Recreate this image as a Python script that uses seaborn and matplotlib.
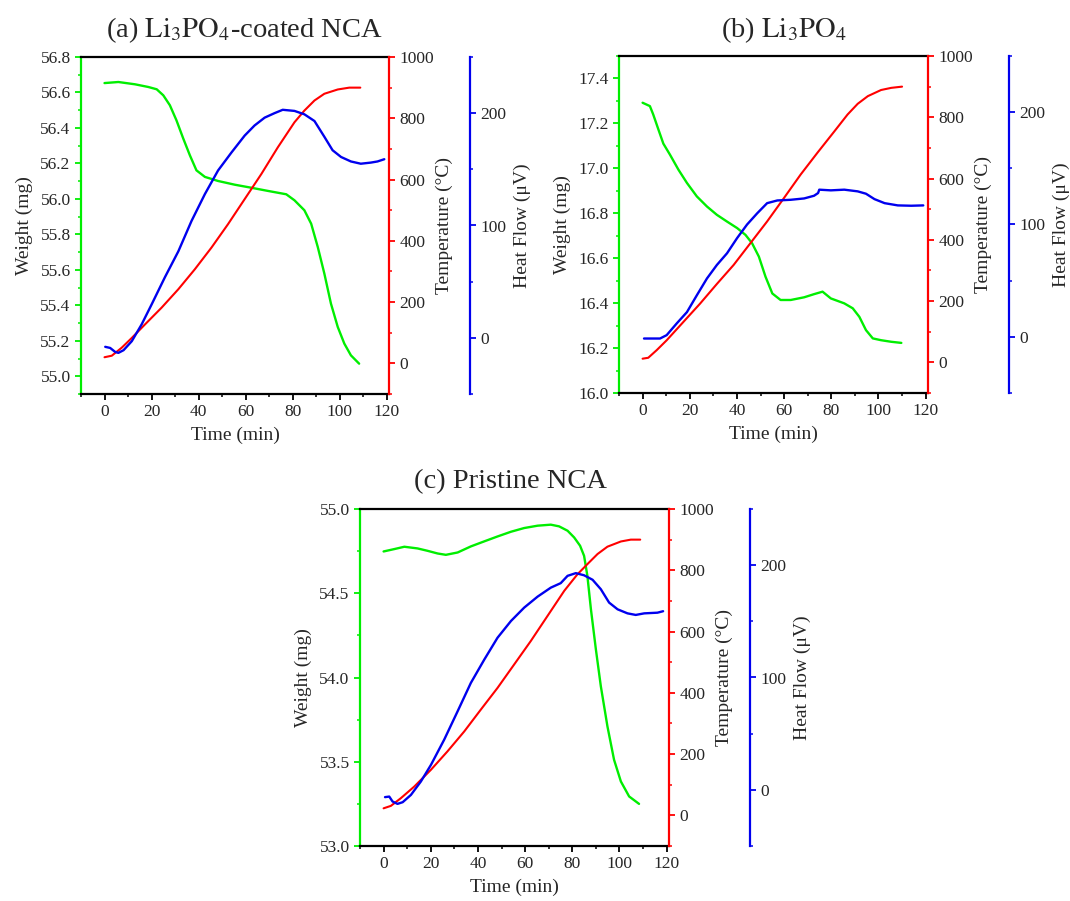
import numpy as np
import pandas as pd
import seaborn as sns
import matplotlib.pyplot as plt
from matplotlib.ticker import MultipleLocator

# (a) Li3PO4-coated NCA
a_wt_t = [0, 5.9, 13, 18.6, 22.2, 25, 27.8, 30.6, 33.5, 36.3, 39.1, 42.7, 48.3, 55.4, 62.4, 69.5, 77.3, 80.8,
          85, 87.9, 90.7, 93.5, 96.3, 99.2, 102, 104.8, 108.3]
a_wt = [56.653, 56.659, 56.646, 56.631, 56.618, 56.584, 56.528, 56.443, 56.34, 56.246, 56.161, 56.124, 56.101,
        56.08, 56.063, 56.045, 56.026, 55.992, 55.936, 55.86, 55.729, 55.579, 55.41, 55.278, 55.184, 55.118, 55.071]
a_temp_t = [0, 3.1, 7.3, 11.6, 17.2, 24.3, 31.4, 38.4, 45.5, 52.5, 59.6, 66.7, 73.7, 80.8, 85, 89.3, 93.5, 99.2,
            104.1, 108.8]
a_temp = [20, 25, 51, 83, 127, 182, 242, 307, 378, 454, 536, 618, 705, 787, 825, 858, 880, 894, 900, 900]
a_hf_t = [0.3, 2.4, 4.5, 5.9, 8.1, 11.6, 15.8, 20.1, 25.7, 31.4, 37, 42.7, 48.3, 54, 59.6, 63.8, 68.1, 72.3,
          75.8, 80.8, 85, 89.3, 93.5, 97, 100.6, 104.8, 109, 113.3, 116.1, 119]
a_hf = [-8, -9, -12.5, -13.4, -11, -3, 12, 30, 54, 77, 104, 128, 149, 165, 180, 189, 196, 200, 203, 202, 199,
        193, 179, 167, 161, 157, 155, 156, 157, 159]

# (b) Li3PO4
b_wt_t = [0, 3.1, 4.5, 6.7, 8.8, 11.6, 15.2, 18.8, 23, 27.3, 31.5, 35.8, 40.1, 43.6, 46.4, 49.3, 52.1, 55,
          58.5, 62.8, 68.5, 72.7, 76.3, 79.8, 85.5, 89.1, 91.9, 94.7, 97.6, 101.1, 105.4, 109.7]
b_wt = [17.292, 17.277, 17.24, 17.173, 17.11, 17.061, 16.994, 16.935, 16.875, 16.83, 16.793, 16.763, 16.734,
        16.704, 16.667, 16.607, 16.518, 16.443, 16.414, 16.414, 16.426, 16.44, 16.451, 16.421, 16.399, 16.377,
        16.339, 16.28, 16.243, 16.235, 16.228, 16.223]
b_temp_t = [0, 2.4, 6, 10.2, 17.3, 24.4, 31.5, 38.6, 45.7, 52.8, 59.9, 67, 74.1, 81.3, 86.9, 91.2, 95.5, 101.1,
            105.4, 110]
b_temp = [12, 15, 40, 72, 132, 192, 256, 318, 389, 460, 536, 613, 684, 754, 809, 844, 869, 889, 896, 900]
b_hf_t = [0.6, 7.4, 10.2, 14.5, 18.8, 23, 27.3, 31.5, 35.8, 40.1, 44.3, 48.6, 52.8, 57.1, 62.8, 68.5, 72.7,
          74.4, 74.9, 79.8, 85.5, 91.2, 94.7, 98.3, 102.6, 108.2, 113.9, 119]
b_hf = [-1.5, -1.5, 1.5, 12, 22, 37, 52, 64, 74.4, 88, 100, 110, 119, 121.4, 122, 123.2, 125.6, 128, 131,
        130.4, 131, 129.5, 127.4, 122.6, 119, 117, 116.7, 117]

# (c) Pristine NCA
c_wt_t = [0, 4.5, 8.8, 14.4, 18.6, 22.9, 26.4, 31.4, 37, 42.7, 48.3, 54, 59.6, 65.3, 70.9, 74.4, 78, 80.8,
          83.3, 85, 86.4, 87.9, 90, 92.1, 94.9, 97.7, 100.6, 104.1, 108.3]
c_wt = [54.748, 54.762, 54.776, 54.766, 54.752, 54.736, 54.728, 54.742, 54.778, 54.808, 54.837, 54.865, 54.887,
        54.901, 54.907, 54.897, 54.871, 54.831, 54.782, 54.722, 54.603, 54.405, 54.167, 53.948, 53.71, 53.512,
        53.383, 53.294, 53.25]
c_temp_t = [0, 3.1, 7.3, 13, 20.1, 27.1, 34.2, 41.2, 48.3, 55.4, 62.4, 69.5, 76.6, 82.2, 86.4, 90.7, 94.9,
            100.6, 104.8, 108.8]
c_temp = [23, 31, 56, 94, 149, 209, 274, 345, 416, 493, 569, 651, 733, 787, 820, 853, 877, 894, 900, 900]
c_hf_t = [0.6, 2.4, 3.8, 5.9, 8.1, 11.6, 15.8, 20.1, 25.7, 31.4, 37, 42.7, 48.3, 54, 59.6, 65.3, 70.9, 75.1,
          78, 81.5, 85, 88.6, 92.1, 95.6, 99.2, 103.4, 106.9, 110.5, 116.1, 118.5]
c_hf = [-6.5, -6, -10.4, -12.5, -11, -4.5, 7.4, 22.3, 44.7, 70, 95.2, 116, 135.4, 150.3, 162.2, 172, 180,
        184, 190.5, 192.9, 191, 187, 178.6, 166.7, 160.7, 157.1, 155.7, 157.1, 157.7, 159]

GREEN, RED, BLUE = '#00ee00', '#ff0000', '#0000ee'

sns.set_style('ticks')
plt.rcParams['font.family'] = ['Liberation Serif', 'DejaVu Serif']
plt.rcParams['mathtext.fontset'] = 'stix'
plt.rcParams['xtick.direction'] = 'out'
plt.rcParams['ytick.direction'] = 'out'

W, H = 1070, 901
fig = plt.figure(figsize=(W / 100, H / 100), dpi=100)


def px_rect(left, right, top, bottom):
    return [left / W, 1 - bottom / H, (right - left) / W, (bottom - top) / H]


def panel(rect, wt_t, wt, temp_t, temp, hf_t, hf, ylim, ymaj, ymin):
    ax = fig.add_axes(rect)
    ax_t = ax.twinx()
    ax_h = ax.twinx()

    sns.lineplot(x=wt_t, y=wt, ax=ax, color=GREEN, linewidth=1.7)
    sns.lineplot(x=temp_t, y=temp, ax=ax_t, color=RED, linewidth=1.5)
    sns.lineplot(x=hf_t, y=hf, ax=ax_h, color=BLUE, linewidth=1.7)

    ax.set_xlim(-10, 121)
    ax.set_ylim(*ylim)
    ax_t.set_ylim(-100, 1000)
    ax_h.set_ylim(-50, 250)

    ax.xaxis.set_major_locator(MultipleLocator(20))
    ax.xaxis.set_minor_locator(MultipleLocator(10))
    ax.yaxis.set_major_locator(MultipleLocator(ymaj))
    ax.yaxis.set_minor_locator(MultipleLocator(ymin))
    ax_t.yaxis.set_major_locator(MultipleLocator(200))
    ax_t.yaxis.set_minor_locator(MultipleLocator(100))
    ax_h.yaxis.set_major_locator(MultipleLocator(100))
    ax_h.yaxis.set_minor_locator(MultipleLocator(50))

    for a in (ax, ax_t, ax_h):
        for s in ['top', 'bottom', 'left', 'right']:
            a.spines[s].set_linewidth(1.6)
    ax.spines['top'].set_visible(True)
    ax.spines['right'].set_visible(False)
    ax.spines['left'].set_color(GREEN)
    ax.spines['top'].set_color('black')
    ax.spines['bottom'].set_color('black')
    for s in ['top', 'bottom', 'left']:
        ax_t.spines[s].set_visible(False)
        ax_h.spines[s].set_visible(False)
    ax_t.spines['right'].set_color(RED)
    ax_h.spines['right'].set_color(BLUE)
    ax_h.spines['right'].set_position(('outward', 58.3))

    ax.tick_params(axis='x', which='major', length=4, width=1.3, labelsize=12.5, color='black', pad=3)
    ax.tick_params(axis='x', which='minor', length=2.5, width=1.1, color='black')
    ax.tick_params(axis='y', which='major', length=4, width=1.3, labelsize=12.5, color=GREEN)
    ax.tick_params(axis='y', which='minor', length=2.5, width=1.1, color=GREEN)
    ax_t.tick_params(axis='y', which='major', length=4, width=1.3, labelsize=12.5, color=RED)
    ax_t.tick_params(axis='y', which='minor', length=2.5, width=1.1, color=RED)
    ax_h.tick_params(axis='y', which='major', length=4, width=1.3, labelsize=12.5, color=BLUE)
    ax_h.tick_params(axis='y', which='minor', length=2.5, width=1.1, color=BLUE)

    ax.set_xlabel('Time (min)', fontsize=14, labelpad=5)
    ax.set_ylabel('Weight (mg)', fontsize=14, labelpad=5)
    ax_t.set_ylabel('Temperature (°C)', fontsize=14, labelpad=1)
    ax_h.set_ylabel('Heat Flow (μV)', fontsize=14, labelpad=5)
    return ax


panel(px_rect(81, 389, 57, 394), a_wt_t, a_wt, a_temp_t, a_temp, a_hf_t, a_hf, (54.9, 56.8), 0.2, 0.1)
panel(px_rect(619, 928, 56, 393), b_wt_t, b_wt, b_temp_t, b_temp, b_hf_t, b_hf, (16.0, 17.5), 0.2, 0.1)
panel(px_rect(360, 669, 509, 846), c_wt_t, c_wt, c_temp_t, c_temp, c_hf_t, c_hf, (53.0, 55.0), 0.5, 0.25)

fig.text(244 / W, 1 - 37 / H, r'(a) $\mathrm{Li_3PO_4}$-coated NCA', fontsize=20.5, ha='center', va='baseline')
fig.text(784 / W, 1 - 37 / H, r'(b) $\mathrm{Li_3PO_4}$', fontsize=20.5, ha='center', va='baseline')
fig.text(510 / W, 1 - 488 / H, '(c) Pristine NCA', fontsize=20.5, ha='center', va='baseline')

fig.savefig('out.png', dpi=100)
